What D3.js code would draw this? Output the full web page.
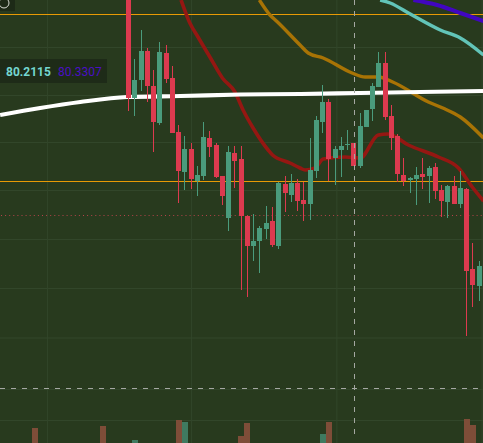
<!DOCTYPE html>
<html><head><meta charset="utf-8">
<script src="https://cdnjs.cloudflare.com/ajax/libs/d3/7.8.5/d3.min.js"></script>
<style>html,body{margin:0;padding:0;background:#283a1e;overflow:hidden}svg{display:block}</style>
</head><body><svg id="c" width="483" height="443"></svg>
<script>
// Candle rows: index, open, high, low, close (prices)
const candles = [
[0,80.800,80.800,79.986,80.038],[1,80.038,80.194,79.966,80.110],[2,80.110,80.310,80.066,80.226],[3,80.226,80.238,80.022,80.086],
[4,80.086,80.150,79.822,79.942],[5,79.938,80.262,79.930,80.222],[6,80.218,80.250,80.098,80.114],[7,80.118,80.166,79.898,79.898],
[8,79.902,79.930,79.618,79.746],[9,79.742,79.886,79.670,79.834],[10,79.834,79.858,79.674,79.714],[11,79.706,79.766,79.646,79.730],
[12,79.726,79.942,79.710,79.882],[13,79.878,79.906,79.802,79.842],[14,79.850,79.858,79.718,79.722],[15,79.726,79.726,79.610,79.646],
[16,79.558,79.846,79.506,79.822],[17,79.818,79.846,79.678,79.786],[18,79.794,79.846,79.270,79.566],[19,79.566,79.566,79.242,79.446],
[20,79.446,79.574,79.386,79.466],[21,79.466,79.526,79.338,79.518],[22,79.514,79.606,79.474,79.538],[23,79.546,79.602,79.442,79.450],
[24,79.446,79.702,79.434,79.698],[25,79.694,79.726,79.582,79.658],[26,79.650,79.734,79.622,79.698],[27,79.698,79.714,79.586,79.626],
[28,79.630,79.702,79.546,79.614],[29,79.614,79.878,79.550,79.750],[30,79.746,79.966,79.718,79.950],[31,79.942,80.090,79.898,80.022],
[32,80.022,80.034,79.706,79.794],[33,79.798,79.846,79.690,79.834],[34,79.830,79.882,79.722,79.846],[35,79.850,79.910,79.830,79.854],
[36,79.858,79.858,79.766,79.766],[37,79.766,79.978,79.758,79.926],[38,79.922,79.990,79.922,79.990],[39,79.994,80.098,79.946,80.086],
[40,80.082,80.222,80.082,80.178],[41,80.178,80.222,79.950,79.962],[42,79.966,80.010,79.830,79.878],[43,79.886,79.894,79.702,79.734],
[44,79.730,79.798,79.686,79.706],[45,79.710,79.722,79.658,79.718],[46,79.714,79.762,79.610,79.730],[47,79.734,79.798,79.674,79.722],
[48,79.726,79.766,79.618,79.758],[49,79.762,79.778,79.634,79.666],[50,79.670,79.690,79.562,79.626],[51,79.622,79.690,79.558,79.686],
[52,79.686,79.726,79.614,79.614],[53,79.614,79.746,79.598,79.678],[54,79.674,79.678,79.086,79.346],[55,79.354,79.458,79.202,79.290],
[56,79.286,79.386,79.226,79.366]
];
// Volume rows: index, volume, up (1) / down (0)
const volumeIndex = [-15,-4,1,8,9,18,19,31,32,54,55];
const volumeValue = [15,17,3,23,21,7,20,9,21,24,18];
const volumeUp = [0,0,1,0,1,0,0,1,0,0,0];
// Moving averages: [x position in candle index, price]
const maRed = [[8.4,80.43],[9.8,80.338],[11.1,80.282],[13,80.202],[15,80.118],[17,80.062],[18.3,79.99],[19.9,79.918],[22.3,79.83],[23,79.81],[25.8,79.778],[27.4,79.758],[28.2,79.75],[29.8,79.758],[31.1,79.794],[34.6,79.802],[37,79.798],[39.9,79.89],[41.5,79.894],[44.7,79.85],[49.5,79.802],[52.7,79.758],[54.9,79.682],[56.7,79.626]];
const maGold = [[20.9,80.43],[22.6,80.37],[23.8,80.342],[27.4,80.25],[28.7,80.218],[31.1,80.198],[35.7,80.138],[37.8,80.122],[39.9,80.122],[42.2,80.102],[47.9,80.022],[50.2,79.998],[53,79.962],[56.7,79.878]];
const maCyan = [[40.2,80.43],[41.8,80.418],[45,80.374],[49.8,80.31],[53,80.278],[56.7,80.21]];
const maPurple = [[45.5,80.43],[49.3,80.41],[53,80.378],[56.7,80.346]];
const maWhite = [[-20.5,79.97],[-14.1,79.998],[-7.7,80.022],[-0.2,80.042],[8.3,80.046],[17.9,80.052],[27.5,80.054],[37,80.058],[46.6,80.062],[56.7,80.066]];
// Horizontal price levels
const levelsOrange = [80.374,79.708];
const levelDotted = 79.57;
const levelDashed = 78.876;
const crossIndex = 36;
const gridPrices = [80.242,80.05,79.862,79.67,79.474,79.278,79.08,78.874,78.75];
const gridIndex = [-13,10,33.2,56.4];
const labels = ["80.2115","80.3307"];

const W=483,H=443;
const x=d3.scaleLinear().domain([0,56]).range([128.5,479.1]);
const y=d3.scaleLinear().domain([78.658,80.43]).range([443,0]);
const v=d3.scaleLinear().domain([0,24]).range([443,419]);
const s=d3.select("#c");
const bg=s.append("g");
bg.append("rect").attr("width",W).attr("height",H).attr("fill","#283a1e");

// grid through axes
const gridY=d3.axisLeft(y).tickValues(gridPrices).tickSize(-W).tickFormat("");
const gy=s.append("g").call(gridY);
gy.select(".domain").remove();
gy.selectAll("line").attr("stroke","#32462a").attr("stroke-width",1);
const gridX=d3.axisTop(x).tickValues(gridIndex).tickSize(-H).tickFormat("");
const gx=s.append("g").call(gridX);
gx.select(".domain").remove();
gx.selectAll("line").attr("stroke","#32462a").attr("stroke-width",1);

// volume
s.append("g").selectAll("rect").data(volumeIndex).join("rect")
 .attr("x",d=>Math.round(x(d))-3).attr("width",6)
 .attr("y",(d,i)=>v(volumeValue[i])).attr("height",(d,i)=>H-v(volumeValue[i]))
 .attr("fill",(d,i)=>volumeUp[i]?"#3f7a60":"#7e4d38");

// horizontal levels
s.append("g").selectAll("line").data(levelsOrange).join("line")
 .attr("x1",0).attr("x2",W).attr("y1",d=>Math.round(y(d))+.5).attr("y2",d=>Math.round(y(d))+.5)
 .attr("stroke","#e79a05").attr("stroke-width",1);
s.append("line").attr("x1",1).attr("x2",W).attr("y1",Math.round(y(levelDotted))+.5).attr("y2",Math.round(y(levelDotted))+.5)
 .attr("stroke","#b5434a").attr("stroke-width",1).attr("stroke-dasharray","1 3.1");

// moving averages
const ln=d3.line().x(d=>x(d[0])).y(d=>y(d[1])).curve(d3.curveMonotoneX);
[[maRed,"#951712",3.6],[maGold,"#a87305",3.4],[maCyan,"#62c4b8",3.4],[maPurple,"#4106c0",4],[maWhite,"#ffffff",4.2]].forEach(([d,c,w])=>{
 s.append("path").datum(d).attr("d",ln).attr("fill","none").attr("stroke",c).attr("stroke-width",w);
});

// candles
const up="#4a9b7c",dn="#dc3a4f";
const g=s.append("g").selectAll("g").data(candles).join("g");
g.append("rect").attr("x",d=>Math.round(x(d[0])-.5)).attr("width",1)
 .attr("y",d=>y(d[2])).attr("height",d=>y(d[3])-y(d[2]))
 .attr("fill",d=>d[4]>=d[1]?up:dn);
g.append("rect").attr("x",d=>Math.round(x(d[0])-.5)-2).attr("width",5)
 .attr("y",d=>y(Math.max(d[1],d[4]))).attr("height",d=>Math.max(1,Math.abs(y(d[1])-y(d[4]))))
 .attr("fill",d=>d[4]>=d[1]?up:dn);

// crosshair
s.append("line").attr("x1",0).attr("x2",W).attr("y1",Math.round(y(levelDashed))+.5).attr("y2",Math.round(y(levelDashed))+.5)
 .attr("stroke","#a5a8a2").attr("stroke-width",1).attr("stroke-dasharray","5 6");
s.append("line").attr("x1",Math.round(x(crossIndex))+.5).attr("x2",Math.round(x(crossIndex))+.5).attr("y1",0).attr("y2",437)
 .attr("stroke","#a5a8a2").attr("stroke-width",1).attr("stroke-dasharray","5 6");

// label box
s.append("rect").attr("x",0).attr("y",59).attr("width",107).attr("height",24).attr("fill","#1d2a17").attr("opacity",.9);
s.append("text").attr("x",6).attr("y",76).attr("font-family","Roboto, Arial, sans-serif").attr("font-size",12).attr("font-weight",700).attr("fill","#74d6d0").text(labels[0]);
s.append("text").attr("x",58).attr("y",76).attr("font-family","Roboto, Arial, sans-serif").attr("font-size",12).attr("fill","#4a0fc4").text(labels[1]);

// top-left icon box
s.append("rect").attr("x",0).attr("y",0).attr("width",15).attr("height",11).attr("fill","#1d2a17");
s.append("circle").attr("cx",4).attr("cy",3).attr("r",5).attr("fill","none").attr("stroke","#d8dcd4").attr("stroke-width",1);
</script></body></html>
